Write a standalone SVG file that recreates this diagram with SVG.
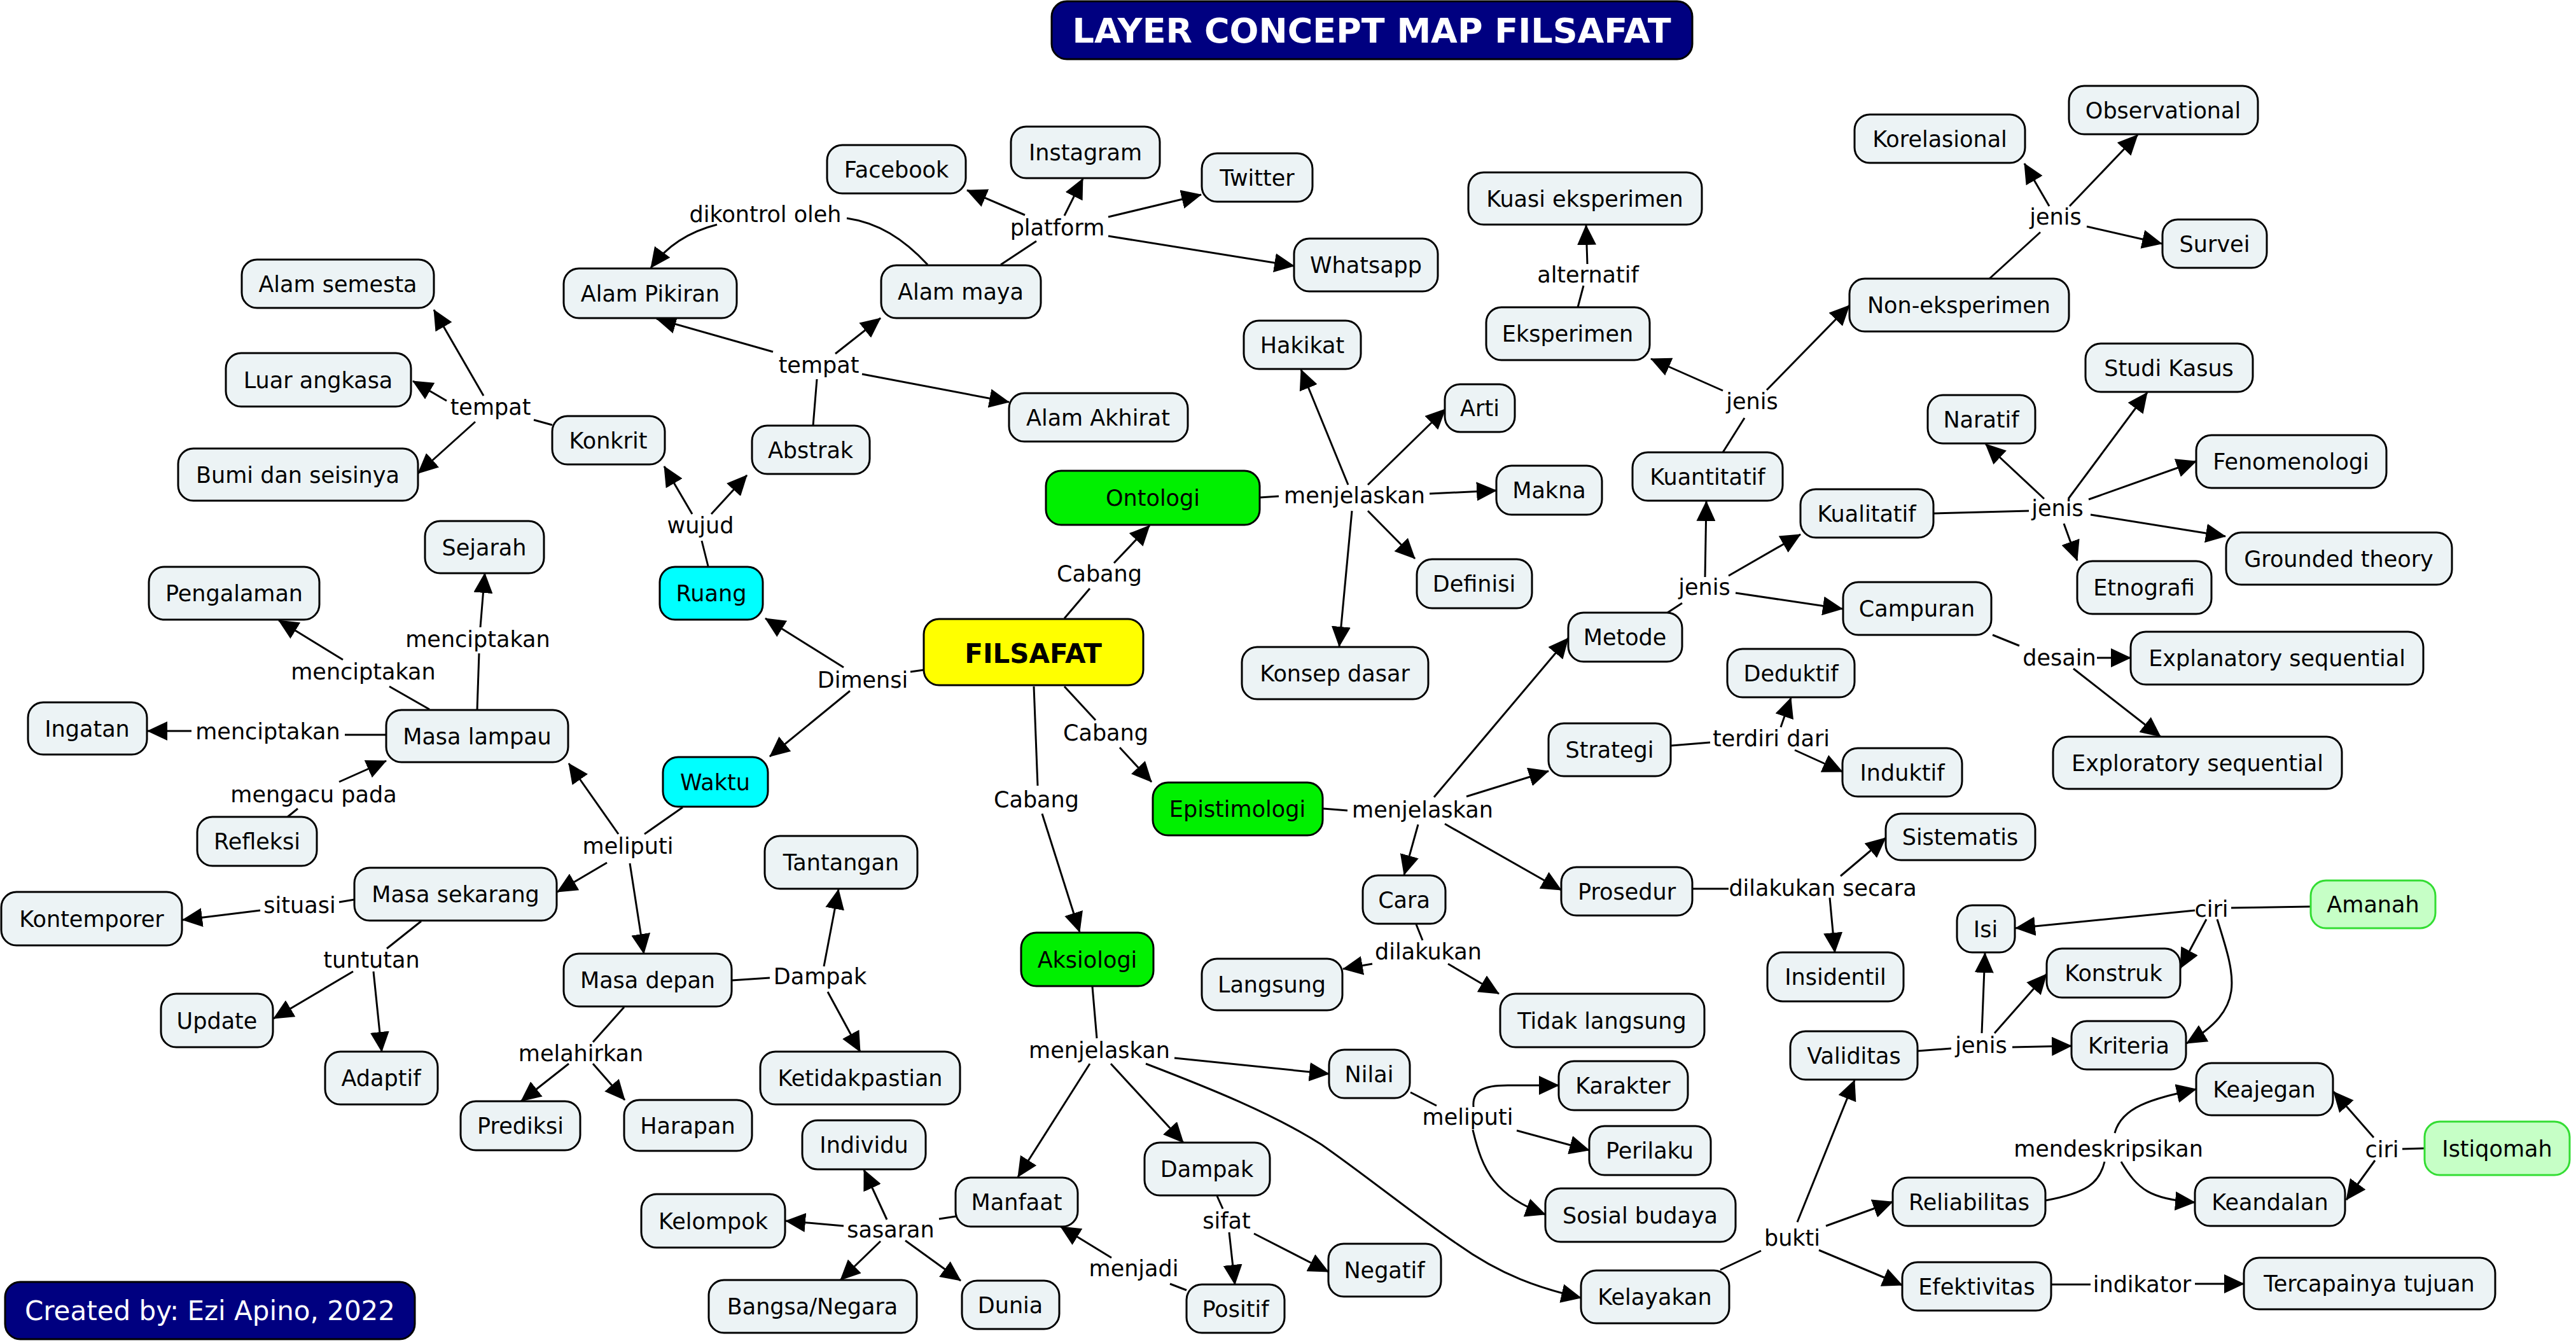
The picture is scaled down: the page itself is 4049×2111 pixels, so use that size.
<svg xmlns="http://www.w3.org/2000/svg" width="4049" height="2111" viewBox="0 0 4049 2111">
<style>
.n rect{fill:#ECF3F5;stroke:#000;stroke-width:3}
.g rect{fill:#00F000}
.cy rect{fill:#00FFFF}
.lg rect{fill:#C6FFC6;stroke:#33DD33}
.nv rect{fill:#000080}
text{font-family:"DejaVu Sans",Verdana,sans-serif;font-size:35px;text-anchor:middle;fill:#000}
.b{font-weight:bold;font-size:42px}
.w{fill:#fff}
.c path{fill:none;stroke:#000;stroke-width:3}
.c path.a{marker-end:url(#ah)}
</style>
<defs>
<marker id="ah" viewBox="0 0 32 30" refX="31" refY="15" markerWidth="32" markerHeight="30" markerUnits="userSpaceOnUse" orient="auto"><path d="M0,0 L32,15 L0,30 Z" fill="#000"/></marker>
</defs>
<rect width="4049" height="2111" fill="#fff"/>

<g id="connectors" class="c">
<!-- FILSAFAT -->
<path d="M1673,972 L1713,925"/><path class="a" d="M1751,885 L1807,826"/>
<path d="M1673,1079 L1722,1132"/><path class="a" d="M1760,1175 L1810,1229"/>
<path d="M1625,1079 L1631,1235"/><path class="a" d="M1638,1279 L1697,1465"/>
<path d="M1452,1053 L1431,1056"/><path class="a" d="M1326,1049 L1203,972"/><path class="a" d="M1336,1086 L1210,1189"/>
<!-- Ruang -->
<path d="M1113,890 L1103,850"/><path class="a" d="M1088,808 L1044,733"/><path class="a" d="M1118,808 L1174,747"/>
<!-- Konkrit -->
<path d="M868,668 L839,660"/><path class="a" d="M760,622 L682,487"/><path class="a" d="M702,630 L649,599"/><path class="a" d="M747,663 L657,744"/>
<!-- Abstrak -->
<path d="M1278,669 L1284,596"/><path class="a" d="M1215,553 L1032,501"/><path class="a" d="M1313,556 L1384,500"/><path class="a" d="M1355,588 L1586,632"/>
<!-- Alam maya -->
<path d="M1458,416 C1420,375 1380,350 1331,343"/><path class="a" d="M1127,353 Q1060,370 1023,421"/>
<path d="M1573,416 L1629,379"/><path class="a" d="M1611,338 L1520,299"/><path class="a" d="M1673,339 L1702,281"/><path class="a" d="M1742,341 L1888,306"/><path class="a" d="M1742,371 L2034,418"/>
<!-- Ontologi -->
<path d="M1980,782 L2010,780"/><path class="a" d="M2247,776 L2352,771"/><path class="a" d="M2150,803 L2224,878"/><path class="a" d="M2125,803 L2105,1016"/><path class="a" d="M2119,762 L2045,581"/><path class="a" d="M2150,762 L2272,643"/>
<!-- Epistimologi -->
<path d="M2080,1271 L2118,1274"/><path class="a" d="M2254,1253 L2465,1003"/><path class="a" d="M2305,1252 L2434,1212"/><path class="a" d="M2271,1295 L2454,1399"/><path class="a" d="M2229,1296 L2207,1375"/>
<!-- Metode -->
<path d="M2621,963 L2644,948"/><path class="a" d="M2680,907 L2682,788"/><path class="a" d="M2717,905 L2830,840"/><path class="a" d="M2728,932 L2896,957"/>
<!-- Kuantitatif -->
<path d="M2708,711 L2742,657"/><path class="a" d="M2708,614 L2595,564"/><path class="a" d="M2777,613 L2907,480"/>
<path d="M2480,483 L2489,449"/><path class="a" d="M2495,415 L2493,354"/>
<!-- Non-eksperimen -->
<path d="M3127,438 L3207,365"/><path class="a" d="M3221,324 L3182,257"/><path class="a" d="M3253,324 L3360,212"/><path class="a" d="M3280,356 L3398,383"/>
<!-- Kualitatif -->
<path d="M3040,807 L3189,803"/><path class="a" d="M3213,784 L3121,698"/><path class="a" d="M3251,784 L3375,617"/><path class="a" d="M3283,785 L3452,725"/><path class="a" d="M3286,809 L3498,843"/><path class="a" d="M3244,823 L3265,881"/>
<!-- Campuran -->
<path d="M3132,998 L3174,1015"/><path class="a" d="M3296,1034 L3349,1034"/><path class="a" d="M3259,1051 L3396,1158"/>
<!-- Strategi -->
<path d="M2627,1172 L2688,1167"/><path class="a" d="M2799,1143 L2815,1097"/><path class="a" d="M2821,1179 L2896,1213"/>
<!-- Prosedur -->
<path d="M2661,1397 L2717,1397"/><path class="a" d="M2893,1377 L2964,1317"/><path class="a" d="M2876,1411 L2884,1497"/>
<!-- Cara -->
<path d="M2226,1453 L2236,1478"/><path class="a" d="M2157,1515 L2111,1523"/><path class="a" d="M2276,1515 L2356,1562"/>
<!-- Aksiologi -->
<path d="M1717,1551 L1724,1632"/><path class="a" d="M1713,1672 L1600,1850"/><path class="a" d="M1746,1672 L1860,1796"/><path class="a" d="M1846,1663 L2089,1688"/>
<path class="a" d="M1801,1672 C1900,1710 2000,1750 2077,1799 C2150,1850 2230,1915 2290,1955 C2360,2005 2420,2025 2485,2040"/>
<!-- Manfaat -->
<path d="M1502,1912 L1476,1916"/><path class="a" d="M1394,1917 L1358,1839"/><path class="a" d="M1326,1927 L1235,1919"/><path class="a" d="M1384,1951 L1321,2012"/><path class="a" d="M1423,1950 L1510,2013"/>
<path d="M1865,2028 L1839,2018"/><path class="a" d="M1747,1977 L1667,1928"/>
<!-- Dampak -->
<path d="M1913,1880 L1922,1900"/><path class="a" d="M1932,1937 L1941,2019"/><path class="a" d="M1971,1939 L2088,1999"/>
<!-- Nilai -->
<path d="M2217,1717 L2258,1738"/><path class="a" d="M2316,1740 C2314,1715 2330,1706 2370,1706 L2450,1706"/><path class="a" d="M2384,1777 L2498,1808"/><path class="a" d="M2315,1776 C2330,1840 2350,1880 2429,1909"/>
<!-- Kelayakan -->
<path d="M2704,1996 L2768,1966"/><path class="a" d="M2825,1921 L2915,1698"/><path class="a" d="M2870,1927 L2975,1889"/><path class="a" d="M2859,1965 L2990,2020"/>
<!-- Validitas -->
<path d="M3014,1652 L3067,1648"/><path class="a" d="M3115,1624 L3120,1498"/><path class="a" d="M3135,1624 L3217,1531"/><path class="a" d="M3163,1646 L3256,1644"/>
<!-- Amanah -->
<path d="M3632,1425 L3507,1427"/><path class="a" d="M3450,1431 L3168,1459"/><path class="a" d="M3468,1445 L3427,1522"/><path class="a" d="M3485,1445 C3515,1540 3530,1585 3437,1640"/>
<!-- Reliabilitas -->
<path d="M3215,1887 C3280,1875 3300,1860 3308,1826"/><path class="a" d="M3324,1781 C3335,1740 3380,1728 3452,1712"/><path class="a" d="M3334,1826 C3360,1870 3380,1885 3450,1890"/>
<!-- Istiqomah -->
<path d="M3811,1805 L3776,1806"/><path class="a" d="M3731,1788 L3668,1716"/><path class="a" d="M3733,1824 L3688,1886"/>
<!-- Efektivitas -->
<path d="M3224,2019 L3286,2019"/><path class="a" d="M3450,2018 L3527,2018"/>
<!-- Waktu -->
<path d="M1073,1269 L1013,1311"/><path class="a" d="M972,1311 L894,1200"/><path class="a" d="M954,1356 L876,1402"/><path class="a" d="M990,1357 L1012,1499"/>
<!-- Masa lampau -->
<path d="M750,1116 L753,1027"/><path class="a" d="M755,986 L762,901"/>
<path d="M675,1115 L612,1079"/><path class="a" d="M539,1037 L438,975"/>
<path d="M607,1155 L542,1155"/><path class="a" d="M301,1149 L232,1149"/>
<path d="M452,1284 L468,1271"/><path class="a" d="M533,1229 L607,1196"/>
<!-- Masa sekarang -->
<path d="M557,1414 L533,1418"/><path class="a" d="M409,1431 L287,1446"/>
<path d="M662,1448 L608,1491"/><path class="a" d="M555,1527 L430,1601"/><path class="a" d="M587,1527 L600,1653"/>
<!-- Masa depan -->
<path d="M981,1583 L932,1638"/><path class="a" d="M894,1672 L819,1731"/><path class="a" d="M932,1672 L982,1729"/>
<path d="M1150,1541 L1210,1537"/><path class="a" d="M1295,1519 L1318,1398"/><path class="a" d="M1301,1559 L1352,1653"/>
</g>

<g id="labels">
<text x="1728" y="914">Cabang</text>
<text x="1738" y="1164">Cabang</text>
<text x="1629" y="1269">Cabang</text>
<text x="1356" y="1081">Dimensi</text>
<text x="1101" y="838">wujud</text>
<text x="771" y="652">tempat</text>
<text x="1287" y="586">tempat</text>
<text x="1203" y="349">dikontrol oleh</text>
<text x="1662" y="370">platform</text>
<text x="2129" y="791">menjelaskan</text>
<text x="2236" y="1285">menjelaskan</text>
<text x="2679" y="935">jenis</text>
<text x="2754" y="643">jenis</text>
<text x="2496" y="444">alternatif</text>
<text x="3231" y="353">jenis</text>
<text x="3234" y="811">jenis</text>
<text x="3237" y="1046">desain</text>
<text x="2784" y="1173">terdiri dari</text>
<text x="2865" y="1408">dilakukan secara</text>
<text x="2245" y="1508">dilakukan</text>
<text x="1728" y="1663">menjelaskan</text>
<text x="1400" y="1945">sasaran</text>
<text x="1782" y="2006">menjadi</text>
<text x="1928" y="1931">sifat</text>
<text x="2307" y="1768">meliputi</text>
<text x="2817" y="1958">bukti</text>
<text x="3114" y="1655">jenis</text>
<text x="3476" y="1441">ciri</text>
<text x="3314" y="1818">mendeskripsikan</text>
<text x="3744" y="1819">ciri</text>
<text x="3367" y="2031">indikator</text>
<text x="987" y="1342">meliputi</text>
<text x="751" y="1017">menciptakan</text>
<text x="571" y="1068">menciptakan</text>
<text x="421" y="1162">menciptakan</text>
<text x="493" y="1261">mengacu pada</text>
<text x="471" y="1435">situasi</text>
<text x="584" y="1521">tuntutan</text>
<text x="913" y="1668">melahirkan</text>
<text x="1289" y="1547">Dampak</text>
</g>

<g id="title" class="n nv"><rect x="1653" y="2" width="1007" height="91" rx="24"/><text class="w b" x="2156" y="67" style="font-size:54px">LAYER CONCEPT MAP FILSAFAT</text></g>
<g id="created" class="n nv"><rect x="8" y="2015" width="644" height="90" rx="24"/><text class="w" x="330" y="2075" style="font-size:42px">Created by: Ezi Apino, 2022</text></g>

<g id="filsafat" class="n"><rect x="1452" y="973" width="345" height="104" rx="24" style="fill:#FFFF00"/><text class="b" x="1624" y="1042">FILSAFAT</text></g>
<g id="ontologi" class="n g"><rect x="1644" y="740" width="336" height="85" rx="24"/><text x="1812" y="795">Ontologi</text></g>
<g id="epistimologi" class="n g"><rect x="1812" y="1230" width="267" height="83" rx="24"/><text x="1945" y="1284">Epistimologi</text></g>
<g id="aksiologi" class="n g"><rect x="1605" y="1466" width="208" height="84" rx="24"/><text x="1709" y="1521">Aksiologi</text></g>
<g id="ruang" class="n cy"><rect x="1037" y="891" width="162" height="83" rx="24"/><text x="1118" y="945">Ruang</text></g>
<g id="waktu" class="n cy"><rect x="1042" y="1190" width="165" height="78" rx="24"/><text x="1124" y="1242">Waktu</text></g>

<g id="alam-semesta" class="n"><rect x="380" y="408" width="302" height="76" rx="24"/><text x="531" y="459">Alam semesta</text></g>
<g id="luar-angkasa" class="n"><rect x="355" y="555" width="291" height="84" rx="24"/><text x="500" y="610">Luar angkasa</text></g>
<g id="bumi" class="n"><rect x="280" y="705" width="377" height="82" rx="24"/><text x="468" y="759">Bumi dan seisinya</text></g>
<g id="konkrit" class="n"><rect x="868" y="654" width="177" height="76" rx="24"/><text x="956" y="705">Konkrit</text></g>
<g id="abstrak" class="n"><rect x="1182" y="669" width="185" height="76" rx="24"/><text x="1274" y="720">Abstrak</text></g>
<g id="alam-pikiran" class="n"><rect x="886" y="422" width="272" height="78" rx="24"/><text x="1022" y="474">Alam Pikiran</text></g>
<g id="alam-maya" class="n"><rect x="1385" y="417" width="251" height="83" rx="24"/><text x="1510" y="471">Alam maya</text></g>
<g id="alam-akhirat" class="n"><rect x="1586" y="618" width="281" height="76" rx="24"/><text x="1726" y="669">Alam Akhirat</text></g>
<g id="facebook" class="n"><rect x="1300" y="228" width="218" height="76" rx="24"/><text x="1409" y="279">Facebook</text></g>
<g id="instagram" class="n"><rect x="1589" y="199" width="234" height="81" rx="24"/><text x="1706" y="252">Instagram</text></g>
<g id="twitter" class="n"><rect x="1889" y="241" width="174" height="76" rx="24"/><text x="1976" y="292">Twitter</text></g>
<g id="whatsapp" class="n"><rect x="2034" y="375" width="226" height="83" rx="24"/><text x="2147" y="429">Whatsapp</text></g>
<g id="hakikat" class="n"><rect x="1955" y="504" width="184" height="76" rx="24"/><text x="2047" y="555">Hakikat</text></g>
<g id="arti" class="n"><rect x="2271" y="604" width="110" height="75" rx="24"/><text x="2326" y="654">Arti</text></g>
<g id="makna" class="n"><rect x="2352" y="732" width="166" height="77" rx="24"/><text x="2435" y="783">Makna</text></g>
<g id="definisi" class="n"><rect x="2227" y="879" width="181" height="77" rx="24"/><text x="2317" y="930">Definisi</text></g>
<g id="konsep-dasar" class="n"><rect x="1952" y="1017" width="293" height="82" rx="24"/><text x="2098" y="1071">Konsep dasar</text></g>
<g id="kuasi" class="n"><rect x="2308" y="271" width="367" height="82" rx="24"/><text x="2491" y="325">Kuasi eksperimen</text></g>
<g id="eksperimen" class="n"><rect x="2336" y="483" width="257" height="83" rx="24"/><text x="2464" y="537">Eksperimen</text></g>
<g id="non-eksperimen" class="n"><rect x="2907" y="438" width="345" height="83" rx="24"/><text x="3079" y="492">Non-eksperimen</text></g>
<g id="korelasional" class="n"><rect x="2915" y="180" width="268" height="76" rx="24"/><text x="3049" y="231">Korelasional</text></g>
<g id="observational" class="n"><rect x="3252" y="135" width="297" height="76" rx="24"/><text x="3400" y="186">Observational</text></g>
<g id="survei" class="n"><rect x="3399" y="345" width="164" height="76" rx="24"/><text x="3481" y="396">Survei</text></g>
<g id="kuantitatif" class="n"><rect x="2566" y="711" width="236" height="76" rx="24"/><text x="2684" y="762">Kuantitatif</text></g>
<g id="kualitatif" class="n"><rect x="2830" y="769" width="209" height="76" rx="24"/><text x="2934" y="820">Kualitatif</text></g>
<g id="campuran" class="n"><rect x="2897" y="915" width="233" height="83" rx="24"/><text x="3013" y="969">Campuran</text></g>
<g id="studi-kasus" class="n"><rect x="3278" y="540" width="263" height="76" rx="24"/><text x="3409" y="591">Studi Kasus</text></g>
<g id="naratif" class="n"><rect x="3030" y="621" width="169" height="76" rx="24"/><text x="3114" y="672">Naratif</text></g>
<g id="fenomenologi" class="n"><rect x="3452" y="684" width="299" height="83" rx="24"/><text x="3601" y="738">Fenomenologi</text></g>
<g id="grounded" class="n"><rect x="3499" y="837" width="355" height="82" rx="24"/><text x="3676" y="891">Grounded theory</text></g>
<g id="etnografi" class="n"><rect x="3265" y="882" width="211" height="83" rx="24"/><text x="3370" y="936">Etnografi</text></g>
<g id="explanatory" class="n"><rect x="3349" y="993" width="460" height="83" rx="24"/><text x="3579" y="1047">Explanatory sequential</text></g>
<g id="exploratory" class="n"><rect x="3227" y="1158" width="454" height="82" rx="24"/><text x="3454" y="1212">Exploratory sequential</text></g>
<g id="metode" class="n"><rect x="2465" y="963" width="179" height="77" rx="24"/><text x="2554" y="1014">Metode</text></g>
<g id="deduktif" class="n"><rect x="2715" y="1020" width="200" height="76" rx="24"/><text x="2815" y="1071">Deduktif</text></g>
<g id="strategi" class="n"><rect x="2434" y="1137" width="192" height="83" rx="24"/><text x="2530" y="1191">Strategi</text></g>
<g id="induktif" class="n"><rect x="2896" y="1176" width="188" height="76" rx="24"/><text x="2990" y="1227">Induktif</text></g>
<g id="prosedur" class="n"><rect x="2454" y="1363" width="206" height="76" rx="24"/><text x="2557" y="1414">Prosedur</text></g>
<g id="cara" class="n"><rect x="2142" y="1376" width="130" height="76" rx="24"/><text x="2207" y="1427">Cara</text></g>
<g id="sistematis" class="n"><rect x="2964" y="1279" width="235" height="73" rx="24"/><text x="3081" y="1328">Sistematis</text></g>
<g id="insidentil" class="n"><rect x="2778" y="1497" width="214" height="77" rx="24"/><text x="2885" y="1548">Insidentil</text></g>
<g id="langsung" class="n"><rect x="1889" y="1507" width="221" height="81" rx="24"/><text x="1999" y="1560">Langsung</text></g>
<g id="tidak-langsung" class="n"><rect x="2358" y="1562" width="321" height="84" rx="24"/><text x="2518" y="1617">Tidak langsung</text></g>
<g id="nilai" class="n"><rect x="2089" y="1650" width="127" height="76" rx="24"/><text x="2152" y="1701">Nilai</text></g>
<g id="karakter" class="n"><rect x="2450" y="1668" width="203" height="77" rx="24"/><text x="2551" y="1719">Karakter</text></g>
<g id="perilaku" class="n"><rect x="2498" y="1770" width="191" height="77" rx="24"/><text x="2593" y="1821">Perilaku</text></g>
<g id="sosial-budaya" class="n"><rect x="2429" y="1868" width="299" height="84" rx="24"/><text x="2578" y="1923">Sosial budaya</text></g>
<g id="negatif" class="n"><rect x="2088" y="1955" width="177" height="83" rx="24"/><text x="2176" y="2009">Negatif</text></g>
<g id="kelayakan" class="n"><rect x="2485" y="1997" width="233" height="83" rx="24"/><text x="2601" y="2051">Kelayakan</text></g>
<g id="validitas" class="n"><rect x="2814" y="1621" width="200" height="76" rx="24"/><text x="2914" y="1672">Validitas</text></g>
<g id="isi" class="n"><rect x="3076" y="1423" width="91" height="74" rx="24"/><text x="3121" y="1473">Isi</text></g>
<g id="konstruk" class="n"><rect x="3217" y="1491" width="210" height="77" rx="24"/><text x="3322" y="1542">Konstruk</text></g>
<g id="kriteria" class="n"><rect x="3256" y="1605" width="180" height="76" rx="24"/><text x="3346" y="1656">Kriteria</text></g>
<g id="amanah" class="n lg"><rect x="3632" y="1384" width="196" height="75" rx="24"/><text x="3730" y="1434">Amanah</text></g>
<g id="keajegan" class="n"><rect x="3452" y="1671" width="215" height="82" rx="24"/><text x="3559" y="1725">Keajegan</text></g>
<g id="keandalan" class="n"><rect x="3450" y="1851" width="236" height="76" rx="24"/><text x="3568" y="1902">Keandalan</text></g>
<g id="istiqomah" class="n lg"><rect x="3811" y="1763" width="228" height="84" rx="24"/><text x="3925" y="1818">Istiqomah</text></g>
<g id="reliabilitas" class="n"><rect x="2975" y="1851" width="240" height="76" rx="24"/><text x="3095" y="1902">Reliabilitas</text></g>
<g id="efektivitas" class="n"><rect x="2990" y="1984" width="234" height="76" rx="24"/><text x="3107" y="2035">Efektivitas</text></g>
<g id="tercapainya" class="n"><rect x="3527" y="1977" width="395" height="81" rx="24"/><text x="3724" y="2030">Tercapainya tujuan</text></g>
<g id="masa-depan" class="n"><rect x="886" y="1499" width="264" height="83" rx="24"/><text x="1018" y="1553">Masa depan</text></g>
<g id="tantangan" class="n"><rect x="1202" y="1314" width="240" height="83" rx="24"/><text x="1322" y="1368">Tantangan</text></g>
<g id="ketidakpastian" class="n"><rect x="1195" y="1653" width="314" height="83" rx="24"/><text x="1352" y="1707">Ketidakpastian</text></g>
<g id="harapan" class="n"><rect x="981" y="1729" width="201" height="80" rx="24"/><text x="1081" y="1782">Harapan</text></g>
<g id="prediksi" class="n"><rect x="724" y="1731" width="188" height="77" rx="24"/><text x="818" y="1782">Prediksi</text></g>
<g id="individu" class="n"><rect x="1261" y="1761" width="194" height="77" rx="24"/><text x="1358" y="1812">Individu</text></g>
<g id="kelompok" class="n"><rect x="1008" y="1877" width="226" height="84" rx="24"/><text x="1121" y="1932">Kelompok</text></g>
<g id="manfaat" class="n"><rect x="1502" y="1851" width="192" height="77" rx="24"/><text x="1598" y="1902">Manfaat</text></g>
<g id="bangsa" class="n"><rect x="1114" y="2012" width="327" height="83" rx="24"/><text x="1277" y="2066">Bangsa/Negara</text></g>
<g id="dunia" class="n"><rect x="1512" y="2013" width="153" height="76" rx="24"/><text x="1588" y="2064">Dunia</text></g>
<g id="dampak" class="n"><rect x="1799" y="1796" width="197" height="83" rx="24"/><text x="1897" y="1850">Dampak</text></g>
<g id="positif" class="n"><rect x="1865" y="2019" width="154" height="76" rx="24"/><text x="1942" y="2070">Positif</text></g>
<g id="sejarah" class="n"><rect x="668" y="819" width="187" height="82" rx="24"/><text x="761" y="873">Sejarah</text></g>
<g id="pengalaman" class="n"><rect x="234" y="891" width="268" height="83" rx="24"/><text x="368" y="945">Pengalaman</text></g>
<g id="ingatan" class="n"><rect x="44" y="1104" width="187" height="82" rx="24"/><text x="137" y="1158">Ingatan</text></g>
<g id="masa-lampau" class="n"><rect x="607" y="1116" width="286" height="82" rx="24"/><text x="750" y="1170">Masa lampau</text></g>
<g id="refleksi" class="n"><rect x="310" y="1284" width="188" height="77" rx="24"/><text x="404" y="1335">Refleksi</text></g>
<g id="masa-sekarang" class="n"><rect x="557" y="1364" width="318" height="83" rx="24"/><text x="716" y="1418">Masa sekarang</text></g>
<g id="kontemporer" class="n"><rect x="2" y="1402" width="284" height="84" rx="24"/><text x="144" y="1457">Kontemporer</text></g>
<g id="update" class="n"><rect x="253" y="1562" width="176" height="84" rx="24"/><text x="341" y="1617">Update</text></g>
<g id="adaptif" class="n"><rect x="511" y="1653" width="177" height="83" rx="24"/><text x="599" y="1707">Adaptif</text></g>
</svg>
